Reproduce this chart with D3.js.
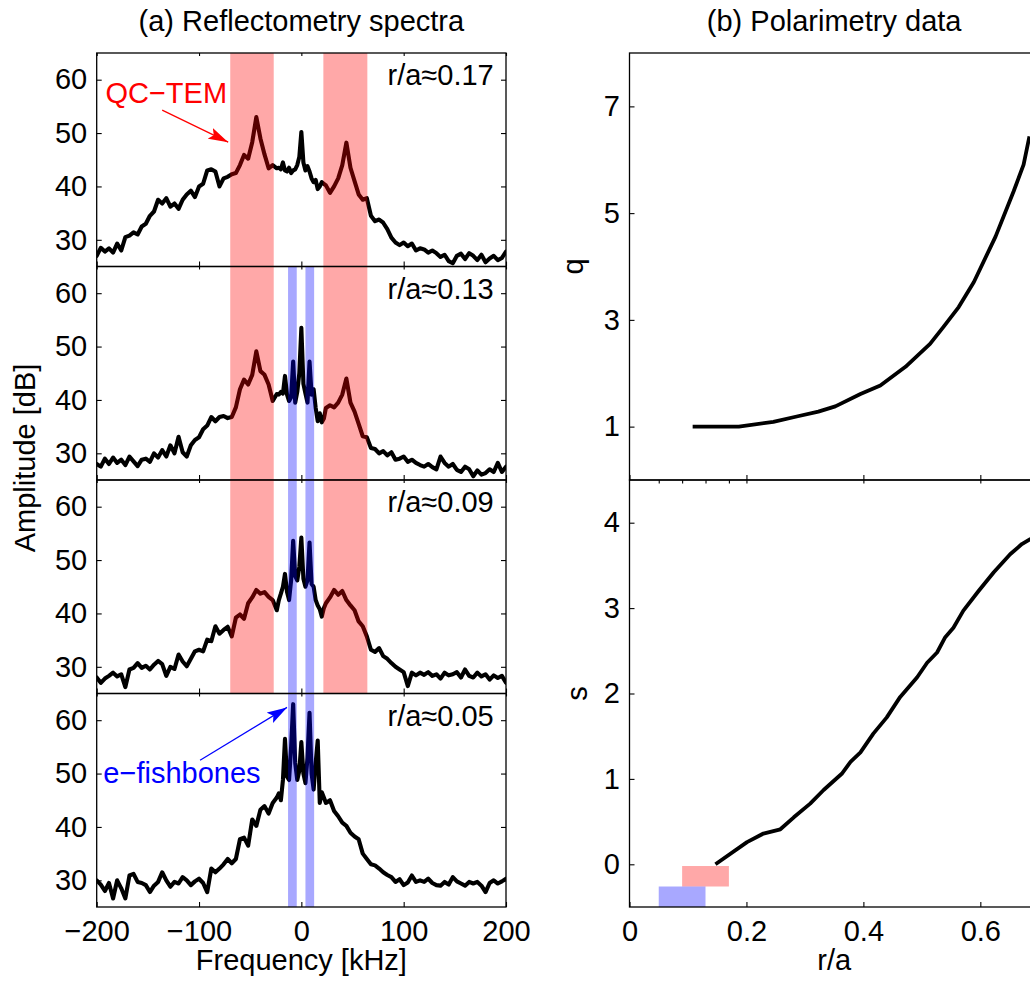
<!DOCTYPE html>
<html>
<head>
<meta charset="utf-8">
<script src="https://cdn.jsdelivr.net/npm/d3@7"></script>
<style>
  html, body { margin: 0; padding: 0; background: #fff; }
  svg { display: block; }
</style>
</head>
<body>
<svg id="chart" width="1030" height="983"></svg>
<script>
// ---------------- DATA ----------------
const freq = [-200,-196,-192,-188,-184,-180,-176,-172,-168,-164,-160,-156,-152,-148,-144,-140,-136,-132,-128,-124,-120,-116,-112,-108,-104,-100,-96,-92,-88,-84,-80,-76,-72,-68,-64,-60,-56,-52,-48,-44,-40,-36,-32,-28,-24,
  -22,-20,-18,-16,-14,-12,-10,-8,-6,-4,-2,0,2,4,6,8,10,12,14,16,18,20,22,
  24,28,32,36,40,44,48,52,56,60,64,68,72,76,80,84,88,92,96,100,104,108,112,116,120,124,128,132,136,140,144,148,152,156,160,164,168,172,176,180,184,188,192,196,200];

const amp017 = [27.0,28.5,27.8,28.4,27.6,29.3,28.0,30.5,30.8,31.4,31.0,32.5,33.0,34.5,35.3,37.5,36.8,37.8,36.2,36.8,35.8,37.5,38.5,39.2,38.0,40.0,40.5,43.0,43.2,42.8,40.0,41.5,41.8,42.3,42.5,44.0,45.9,45.2,48.3,53.0,49.0,46.0,43.4,44.0,43.4,
  43.5,43.2,44.5,43.0,42.8,43.5,42.5,43.0,43.2,44.0,45.5,50.2,44.5,43.0,43.8,42.8,41.5,40.8,41.2,39.5,40.0,40.8,40.5,
  40.2,38.8,40.0,41.5,44.0,48.2,43.5,41.0,38.5,37.5,37.8,34.5,33.5,33.8,33.2,32.0,30.4,29.5,29.0,29.5,28.8,29.3,28.0,28.4,28.2,27.6,28.0,27.5,26.8,27.2,26.0,25.6,27.0,27.4,26.4,27.5,27.0,26.2,27.2,25.8,26.5,27.0,26.2,26.6,27.8];

const amp013 = [28.0,27.5,29.0,28.0,29.2,28.2,28.8,27.8,29.4,28.5,27.6,28.8,29.0,28.4,30.0,29.2,30.6,29.4,31.5,30.0,33.1,30.2,29.4,31.5,32.5,33.0,34.5,35.2,36.8,36.0,36.8,37.0,36.6,36.8,38.6,42.0,43.8,42.9,44.7,49.1,45.4,44.7,42.9,39.8,41.1,
  41.0,41.5,41.2,44.5,41.0,39.8,40.5,47.2,39.5,41.5,45.0,53.5,43.0,41.2,39.5,47.2,41.0,42.0,38.5,36.0,37.5,35.8,36.5,
  38.5,39.0,38.6,39.5,41.0,44.0,39.5,37.8,35.5,33.2,33.0,31.0,30.8,30.0,30.4,29.6,30.2,28.8,29.0,29.4,28.4,28.8,28.2,27.8,27.5,28.0,27.4,27.0,29.4,28.2,27.5,28.0,26.9,26.5,27.5,27.0,25.7,26.8,26.0,26.3,27.0,26.5,28.2,26.5,27.5];

const amp009 = [28.0,27.0,27.8,28.3,28.9,28.2,28.6,26.2,29.5,29.8,30.7,29.8,30.2,29.5,30.4,31.1,30.5,28.3,30.0,29.6,32.3,31.0,30.1,31.5,32.9,33.2,32.9,35.1,34.8,37.6,36.2,36.9,37.5,35.7,39.2,39.8,39.0,41.9,43.0,44.4,43.7,44.0,43.1,42.5,40.6,
  42.5,43.7,45.0,47.4,44.0,42.5,46.2,53.6,47.0,46.2,48.7,54.2,46.5,45.0,46.2,53.3,45.5,45.0,42.5,41.5,40.8,39.4,41.0,
  41.9,43.0,44.4,43.5,44.2,42.5,41.5,40.6,38.5,37.6,35.7,33.2,32.8,33.5,32.0,31.5,30.7,30.0,29.5,29.0,26.4,28.9,28.4,28.9,28.5,29.0,28.3,28.6,27.8,28.9,28.4,28.6,29.0,28.0,29.5,28.3,28.0,28.9,28.2,28.6,27.6,28.4,27.9,28.3,27.0];

const amp005 = [30.0,29.2,28.0,29.5,26.6,30.0,28.5,26.6,30.9,31.2,29.7,29.5,29.1,27.8,29.0,29.7,31.5,30.0,28.8,29.7,29.4,30.6,30.0,29.1,29.8,30.3,29.5,27.8,32.2,31.5,32.2,33.0,34.0,33.2,34.0,37.7,38.0,36.5,41.4,40.2,43.2,43.9,42.5,44.5,45.5,
  46.3,45.0,48.8,56.5,49.4,48.8,55.0,63.0,52.0,48.8,50.5,55.9,50.0,48.2,53.0,61.4,50.0,47.0,52.0,56.2,44.5,46.5,45.5,
  44.5,45.0,43.0,42.0,40.8,40.2,38.9,38.2,37.7,35.0,34.0,33.0,32.8,32.2,31.5,31.0,30.6,29.7,30.2,29.1,29.6,30.9,29.7,30.0,29.7,30.3,29.5,29.1,29.0,29.7,29.2,30.6,29.8,29.4,29.0,29.7,29.4,29.7,29.0,27.8,29.5,30.0,29.4,29.8,30.3];

const spectra = [amp017, amp013, amp009, amp005];
const panelLabels = ["r/a\u22480.17", "r/a\u22480.13", "r/a\u22480.09", "r/a\u22480.05"];
const qcBands = [[-69.5, -27], [21.5, 64.5]];     // kHz, QC-TEM bands
const fbBands = [[-13, -4.5], [4, 12.5]];         // kHz, e-fishbone bands
const qcPanels = [0, 1, 2];
const fbPanels = [1, 2, 3];
const freqTicks = [-200, -100, 0, 100, 200];
const ampTicks = [30, 40, 50, 60];

const qR = [0.108,0.187,0.246,0.286,0.323,0.352,0.395,0.429,0.472,0.514,0.537,0.563,0.589,0.626,0.657,0.674,0.684];
const qV = [1.0,1.0,1.09,1.19,1.28,1.38,1.61,1.77,2.12,2.55,2.87,3.24,3.71,4.56,5.41,5.91,6.44];
const sR = [0.147,0.201,0.229,0.258,0.281,0.309,0.332,0.363,0.378,0.395,0.417,0.440,0.463,0.492,0.509,0.526,0.540,0.554,0.571,0.597,0.623,0.651,0.671,0.686];
const sV = [0.0,0.26,0.36,0.41,0.55,0.71,0.87,1.06,1.20,1.31,1.53,1.72,1.96,2.19,2.36,2.48,2.66,2.77,2.97,3.20,3.42,3.63,3.75,3.81];
const qTicks = [1, 3, 5, 7];
const sTicks = [0, 1, 2, 3, 4];
const rTicks = [0, 0.2, 0.4, 0.6];
const rMeasured = [0.05, 0.09, 0.13, 0.17];
const qcRange = { r: [0.09, 0.17], s: [-0.26, -0.02] };
const fbRange = { r: [0.05, 0.13], s: [-0.5, -0.26] };

// ---------------- LAYOUT ----------------
const FONT = "'Liberation Sans', Arial, Helvetica, sans-serif";
const FS = 29;
const svg = d3.select("#chart");
const defs = svg.append("defs");

const LX = 96.7, PW = 409.3, PH = 213.5, TOP = 53;
const RX = 629.5, RH = 427;
const RED = "#ff0000", BLUE = "#0000ff", SHADE_OP = 0.34;

function styleAxis(g, tickStroke) {
  g.select(".domain").remove();
  g.selectAll(".tick line").attr("stroke", "#000").attr("stroke-width", tickStroke || 1.1);
  g.selectAll("text").attr("font-size", FS).attr("font-family", FONT).attr("fill", "#000");
  g.attr("font-size", null).attr("font-family", null);
}

["red", "blue"].forEach(c => {
  defs.append("marker")
    .attr("id", "arrow-" + c)
    .attr("viewBox", "0 0 20 12")
    .attr("refX", 20).attr("refY", 6)
    .attr("markerWidth", 20).attr("markerHeight", 12)
    .attr("markerUnits", "userSpaceOnUse")
    .attr("orient", "auto")
    .append("path").attr("d", "M0,0 L20,6 L0,12 L4,6 Z")
    .attr("fill", c === "red" ? RED : BLUE);
});

const xF = d3.scaleLinear().domain([-200, 200]).range([0, PW]);
const fmt = d3.format("~g");

spectra.forEach((amp, i) => {
  const top = TOP + i * PH;
  const g = svg.append("g").attr("transform", `translate(${LX},${top})`);
  const y = d3.scaleLinear().domain([25, 65]).range([PH, 0]);
  const clipId = "clipL" + i;
  defs.append("clipPath").attr("id", clipId)
    .append("rect").attr("x", 0).attr("y", 0).attr("width", PW).attr("height", PH);

  const plot = g.append("g").attr("clip-path", `url(#${clipId})`);
  const line = d3.line().x((d, k) => xF(freq[k])).y(d => y(d));
  plot.append("path").datum(amp)
    .attr("d", line).attr("fill", "none").attr("stroke", "#000")
    .attr("stroke-width", 4.1).attr("stroke-linejoin", "round").attr("stroke-linecap", "round");

  if (qcPanels.includes(i)) {
    plot.selectAll(".qc").data(qcBands).enter().append("rect")
      .attr("x", d => xF(d[0])).attr("width", d => xF(d[1]) - xF(d[0]))
      .attr("y", 0).attr("height", PH)
      .attr("fill", RED).attr("fill-opacity", SHADE_OP);
  }
  if (fbPanels.includes(i)) {
    plot.selectAll(".fb").data(fbBands).enter().append("rect")
      .attr("x", d => xF(d[0])).attr("width", d => xF(d[1]) - xF(d[0]))
      .attr("y", 0).attr("height", PH)
      .attr("fill", BLUE).attr("fill-opacity", SHADE_OP);
  }

  // axes
  const gb = g.append("g").attr("transform", `translate(0,${PH})`)
    .call(d3.axisBottom(xF).tickValues(freqTicks).tickSizeInner(-5).tickSizeOuter(0).tickPadding(13)
      .tickFormat(i === 3 ? fmt : () => ""));
  styleAxis(gb);
  const gt = g.append("g")
    .call(d3.axisTop(xF).tickValues(freqTicks).tickSizeInner(-3).tickSizeOuter(0).tickFormat(() => ""));
  styleAxis(gt);
  const gl = g.append("g")
    .call(d3.axisLeft(y).tickValues(ampTicks).tickSizeInner(-5).tickSizeOuter(0).tickPadding(9.5).tickFormat(fmt));
  styleAxis(gl);
  const gr = g.append("g").attr("transform", `translate(${PW},0)`)
    .call(d3.axisRight(y).tickValues(ampTicks).tickSizeInner(-5).tickSizeOuter(0).tickFormat(() => ""));
  styleAxis(gr);

  g.append("rect").attr("x", 0).attr("y", 0).attr("width", PW).attr("height", PH)
    .attr("fill", "none").attr("stroke", "#000").attr("stroke-width", 1.3);

  g.append("text").attr("x", xF(188)).attr("y", y(59))
    .attr("text-anchor", "end").attr("font-family", FONT).attr("font-size", FS)
    .text(panelLabels[i]);

  if (i === 0) {
    g.append("text").attr("x", xF(-191.5)).attr("y", y(55.6))
      .attr("font-family", FONT).attr("font-size", FS).attr("fill", RED).text("QC\u2212TEM");
    g.append("line")
      .attr("x1", xF(-136)).attr("y1", y(54.3)).attr("x2", xF(-71.5)).attr("y2", y(48.3))
      .attr("stroke", RED).attr("stroke-width", 1.2).attr("marker-end", "url(#arrow-red)");
  }
  if (i === 3) {
    g.append("text").attr("x", xF(-193.5)).attr("y", y(48.2))
      .attr("font-family", FONT).attr("font-size", FS).attr("fill", BLUE).text("e\u2212fishbones");
    g.append("line")
      .attr("x1", xF(-99)).attr("y1", y(52.5)).attr("x2", xF(-14)).attr("y2", y(62.4))
      .attr("stroke", BLUE).attr("stroke-width", 1.2).attr("marker-end", "url(#arrow-blue)");
  }
});

// left titles / labels
svg.append("text").attr("x", LX + PW / 2).attr("y", 31).attr("text-anchor", "middle")
  .attr("font-family", FONT).attr("font-size", FS).text("(a) Reflectometry spectra");
svg.append("text").attr("x", LX + PW / 2).attr("y", 970).attr("text-anchor", "middle")
  .attr("font-family", FONT).attr("font-size", FS).text("Frequency [kHz]");
svg.append("text").attr("transform", "translate(35,458) rotate(-90)").attr("text-anchor", "middle")
  .attr("font-family", FONT).attr("font-size", FS).text("Amplitude [dB]");

// ---------------- RIGHT PANELS ----------------
const xR = d3.scaleLinear().domain([0, 0.7]).range([0, PW]);

function rightPanel(top, yDomain, ticks, rs, vs, label, isBottom) {
  const g = svg.append("g").attr("transform", `translate(${RX},${top})`);
  const y = d3.scaleLinear().domain(yDomain).range([RH, 0]);
  const clipId = "clipR" + label;
  defs.append("clipPath").attr("id", clipId)
    .append("rect").attr("x", 0).attr("y", 0).attr("width", PW).attr("height", RH);
  const plot = g.append("g").attr("clip-path", `url(#${clipId})`);

  if (isBottom) {
    [[qcRange, RED], [fbRange, BLUE]].forEach(([rg, c]) => {
      plot.append("rect")
        .attr("x", xR(rg.r[0])).attr("width", xR(rg.r[1]) - xR(rg.r[0]))
        .attr("y", y(rg.s[1])).attr("height", y(rg.s[0]) - y(rg.s[1]))
        .attr("fill", c).attr("fill-opacity", SHADE_OP);
    });
  }

  plot.append("path").datum(vs)
    .attr("d", d3.line().x((d, k) => xR(rs[k])).y(d => y(d)))
    .attr("fill", "none").attr("stroke", "#000").attr("stroke-width", 3.8)
    .attr("stroke-linejoin", "round");

  const gb = g.append("g").attr("transform", `translate(0,${RH})`)
    .call(d3.axisBottom(xR).tickValues(rTicks).tickSizeInner(-5).tickSizeOuter(0).tickPadding(13)
      .tickFormat(isBottom ? fmt : () => ""));
  styleAxis(gb);
  if (isBottom) {
    const gt = g.append("g")
      .call(d3.axisTop(xR).tickValues(rMeasured.concat(rTicks.slice(1))).tickSizeInner(-3.5).tickSizeOuter(0).tickFormat(() => ""));
    styleAxis(gt);
  }
  const gl = g.append("g")
    .call(d3.axisLeft(y).tickValues(ticks).tickSizeInner(-5).tickSizeOuter(0).tickPadding(9.5).tickFormat(fmt));
  styleAxis(gl);

  g.append("rect").attr("x", 0).attr("y", 0).attr("width", PW).attr("height", RH)
    .attr("fill", "none").attr("stroke", "#000").attr("stroke-width", 1.3);

  svg.append("text").attr("transform", `translate(${isBottom ? 587 : 583},${top + RH / 2}) rotate(-90)`)
    .attr("text-anchor", "middle").attr("font-family", FONT).attr("font-size", FS).text(label);
}

rightPanel(TOP, [0, 8], qTicks, qR, qV, "q", false);
rightPanel(TOP + RH, [-0.5, 4.5], sTicks, sR, sV, "s", true);

svg.append("text").attr("x", RX + PW / 2).attr("y", 31).attr("text-anchor", "middle")
  .attr("font-family", FONT).attr("font-size", FS).text("(b) Polarimetry data");
svg.append("text").attr("x", RX + PW / 2).attr("y", 970).attr("text-anchor", "middle")
  .attr("font-family", FONT).attr("font-size", FS).text("r/a");
</script>
</body>
</html>
